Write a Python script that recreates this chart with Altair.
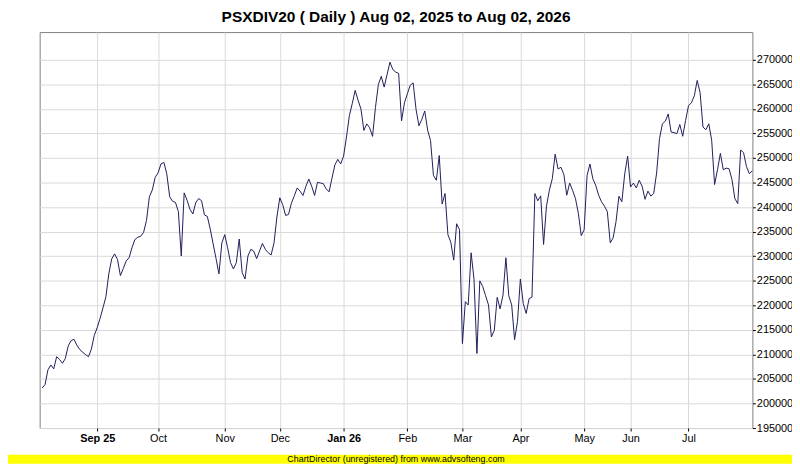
import altair as alt
import pandas as pd

# Daily closes (trading-day index 0..245)
close = [
    203170, 203840, 206850, 207850, 207050, 209530, 208990, 208190, 209160, 211730,
    212820, 213070, 211860, 210970, 210440, 209950, 209530, 211120, 213890, 215460,
    217340, 219500, 221740, 226410, 229450, 230470, 229340, 226050, 227500, 229040,
    229690, 231750, 233390, 233870, 234050, 234850, 237290, 242090, 243490, 246060,
    247000, 248800, 249100, 246800, 242100, 241200, 240950, 239100, 230050, 242900,
    241400, 239550, 238600, 240900, 241750, 241300, 238400, 238100, 235500, 232500,
    229500, 226400, 232700, 234400, 231700, 228700, 227400, 228700, 233500, 226700,
    225360, 230050, 231400, 231050, 229500, 231050, 232600, 231400, 230700, 230250,
    232700, 238000, 241900, 240500, 238300, 238500, 240800, 242300, 243900, 243240,
    242370, 244240, 245720, 244240, 242370, 245050, 244910, 244780, 243710, 243110,
    245920, 248590, 249730, 248790, 250400, 254280, 258630, 261110, 263780, 261770,
    259970, 255620, 256950, 256150, 254410, 260300, 264980, 266650, 264450, 266990,
    269530, 268000, 267500, 267240, 257570, 261260, 263080, 264830, 265300, 259920,
    256560, 257900, 259580, 255690, 253540, 246480, 245470, 250510, 240630, 242780,
    234380, 232840, 229210, 236610, 235390, 212210, 220740, 220070, 230690, 225310,
    210190, 224980, 223830, 221950, 220070, 213550, 214900, 221620, 219270, 222090,
    229680, 221950, 220070, 213000, 216700, 225360, 220350, 218340, 221350, 221680,
    242760, 241290, 242290, 232390, 240210, 243430, 245770, 250790, 247770, 248110,
    246640, 242420, 244900, 243430, 241750, 238740, 234190, 235400, 246440, 248780,
    245770, 244430, 242420, 241080, 240210, 239080, 232720, 233730, 237070, 242220,
    241080, 246770, 250380, 244100, 244900, 243900, 245470, 244260, 241590, 243260,
    242250, 242790, 246940, 253960, 256970, 257510, 258980, 255300, 255170, 254970,
    256840, 254430, 257640, 260650, 261250, 262660, 265800, 263330, 256300, 255770,
    256970, 253630, 244600, 247610, 250950, 247610, 247940, 247810, 245600, 241720,
    240720, 251620, 251080, 248280, 246800, 247410,
]
day = list(range(len(close)))

tick_days = [19, 40, 63, 82, 104, 126, 145, 165, 187, 203, 223]
tick_labels = ["Sep 25", "Oct", "Nov", "Dec", "Jan 26", "Feb", "Mar", "Apr", "May", "Jun", "Jul"]
bold_labels = ["Sep 25", "Jan 26"]
y_ticks = list(range(195000, 270001, 5000))

title_text = "PSXDIV20 ( Daily ) Aug 02, 2025 to Aug 02, 2026"
footer_text = "ChartDirector (unregistered) from www.advsofteng.com"

FONT = "Liberation Sans"
W, H = 720, 400

df = pd.DataFrame({"day": day, "close": close})
one = pd.DataFrame({"t": [title_text], "f": [footer_text]})

label_expr = (
    "[" + ",".join("'" + l + "'" for l in tick_labels) + "]"
    + "[indexof([" + ",".join(str(d) for d in tick_days) + "], datum.value)]"
)
bold_test = " || ".join(
    "datum.value == " + str(d) for d, l in zip(tick_days, tick_labels) if l in bold_labels
)

x_scale = alt.Scale(domain=[-0.85, 245.05], nice=False, zero=False)
y_scale = alt.Scale(domain=[195000, 275650], nice=False, zero=False)

line = alt.Chart(df).mark_line(color="#1e1e5a", strokeWidth=1).encode(
    x=alt.X(
        "day:Q",
        scale=x_scale,
        axis=alt.Axis(
            values=tick_days,
            labelExpr=label_expr,
            title=None,
            grid=True,
            gridColor="#d9d9d9",
            domain=False,
            tickSize=3,
            tickColor="#000000",
            labelFont=FONT,
            labelFontSize=11,
            labelColor="#000000",
            labelPadding=2,
            labelFontWeight={"condition": {"test": bold_test, "value": "bold"}, "value": "normal"},
        ),
    ),
    y=alt.Y(
        "close:Q",
        scale=y_scale,
        axis=alt.Axis(
            orient="right",
            values=y_ticks,
            format="d",
            title=None,
            grid=True,
            gridColor="#d9d9d9",
            domain=False,
            tickSize=3,
            tickColor="#000000",
            labelFont=FONT,
            labelFontSize=11,
            labelColor="#000000",
            labelPadding=1,
        ),
    ),
)

title = alt.Chart(one).mark_text(
    font=FONT, fontSize=15.6, fontWeight="bold", align="center", baseline="alphabetic", color="#000000"
).encode(x=alt.value(W / 2), y=alt.value(-10.5), text="t:N")

footer_band = alt.Chart(one).mark_rect(color="#ffff00").encode(
    x=alt.value(-32), x2=alt.value(W + 40), y=alt.value(427), y2=alt.value(436)
)
footer = alt.Chart(one).mark_text(
    font=FONT, fontSize=9, align="center", baseline="middle", color="#000000"
).encode(x=alt.value(W / 2), y=alt.value(431.5), text="f:N")

chart = (
    alt.layer(line, title, footer_band, footer)
    .properties(
        width=W,
        height=H,
        autosize=alt.AutoSizeParams(type="none"),
        padding={"left": 32, "top": 22, "right": 40, "bottom": 36},
        background="#ffffff",
    )
    .configure_view(stroke="#808080", strokeWidth=1)
)

chart.save("out.html", embed_options={"renderer": "svg", "actions": False})
